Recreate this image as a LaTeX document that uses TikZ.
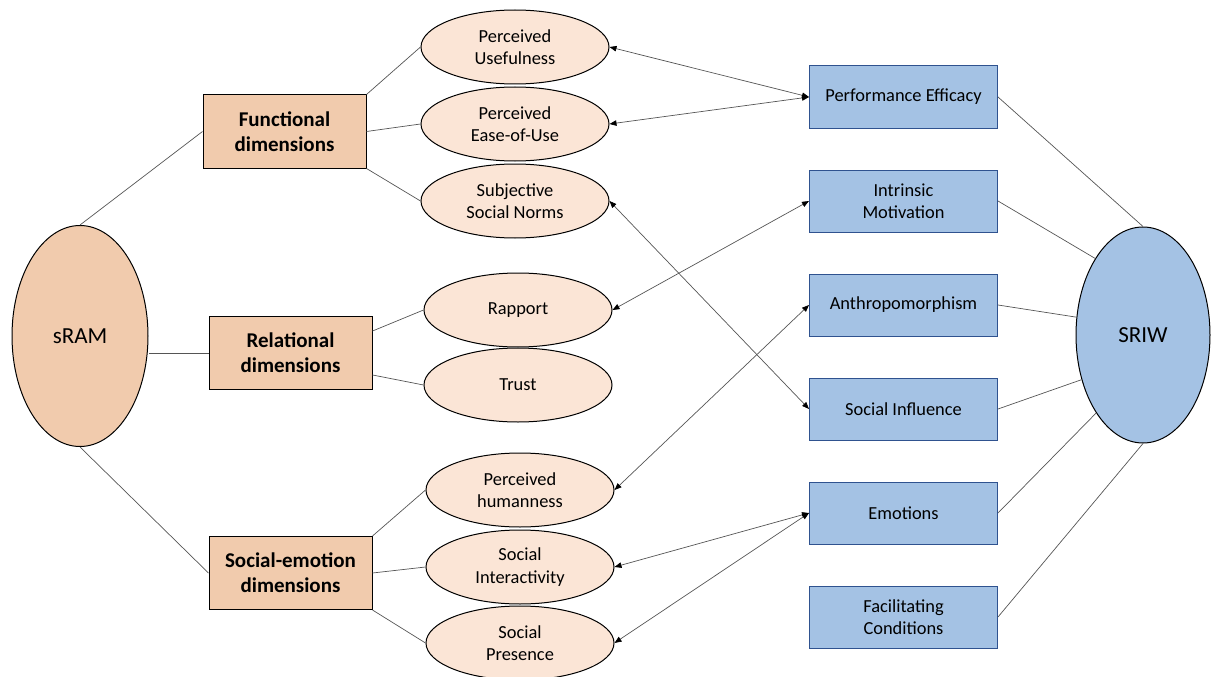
\documentclass[tikz,border=0pt]{standalone}
\usepackage{fontspec}
\setmainfont{Carlito}
\usetikzlibrary{arrows.meta, positioning, shapes.geometric}
\definecolor{RMpeach}{HTML}{F1CBAD}
\definecolor{RMpeachL}{HTML}{FBE5D6}
\definecolor{RWblue}{HTML}{A4C2E4}
\definecolor{RWblueD}{HTML}{2F528F}
\definecolor{RMgrey}{HTML}{555555}
\tikzset{
  rmtxt/.style={font=\fontsize{18.4}{22.4}\selectfont},
  rmcore/.style={ellipse, draw=black, line width=1pt, fill=RMpeach,
    inner sep=0pt, minimum width=136pt, minimum height=221pt,
    font=\fontsize{23}{28}\selectfont},
  rwcore/.style={rmcore, fill=RWblue},
  rmdim/.style={rectangle, draw=black, line width=1pt, fill=RMpeach,
    align=center, inner sep=0pt, minimum width=163pt, minimum height=73pt,
    font=\fontsize{21}{25.2}\selectfont\bfseries},
  rmell/.style={ellipse, draw=black, line width=1pt, fill=RMpeachL,
    align=center, inner sep=0pt, minimum width=188pt, minimum height=74pt,
    rmtxt},
  rwbox/.style={rectangle, draw=RWblueD, line width=1pt, fill=RWblue,
    align=center, inner sep=0pt, minimum width=188pt, minimum height=62pt,
    rmtxt},
  rmtie/.style={draw=RMgrey, line width=0.7pt},
  rwarr/.style={{Triangle[length=7pt,width=5.5pt,color=black]}-{Triangle[length=7pt,width=5.5pt,color=black]},
    draw=RMgrey, line width=0.7pt},
}

\begin{document}
\begin{tikzpicture}[x=1pt, y=-1pt]
  \useasboundingbox (0,0) rectangle (1211,677);
  %% Left: sRAM and its dimensions
  \node[rmcore] (sram) at (80,336) {sRAM};
  \node[rmdim] (func) at (284.5,131.5) {Functional\\dimensions};
  \node[rmdim] (rel) at (290.5,353) {Relational\\dimensions};
  \node[rmdim] (soc) at (290.5,573) {Social-emotion\\dimensions};
  %% Middle: constructs
  \node[rmell] (pu) at (515,47) {Perceived\\Usefulness};
  \node[rmell, below=2pt of pu] (peou) {Perceived\\Ease-of-Use};
  \node[rmell, below=2pt of peou] (ssn) {Subjective\\Social Norms};
  \node[rmell] (rap) at (518,310) {Rapport};
  \node[rmell, below=0pt of rap] (trust) {Trust};
  \node[rmell] (ph) at (520,490) {Perceived\\humanness};
  \node[rmell, below=2pt of ph] (sint) {Social\\Interactivity};
  \node[rmell, below=1pt of sint] (spres) {Social\\Presence};
  %% Right: SRIW factors
  \node[rwbox] (perf) at (903.5,97) {Performance Efficacy};
  \node[rwbox, below=41pt of perf] (intr) {Intrinsic\\Motivation};
  \node[rwbox, below=41pt of intr] (anth) {Anthropomorphism};
  \node[rwbox, below=41pt of anth] (sinf) {Social Influence};
  \node[rwbox, below=41pt of sinf] (emo) {Emotions};
  \node[rwbox, below=41pt of emo] (fac) {Facilitating\\Conditions};
  \node[rwcore, minimum width=134pt, minimum height=216pt] (sriw) at (1143,335) {SRIW};
  %% Ties
  \draw[rmtie] (sram.north) -- (func.west);
  \draw[rmtie] (rel.west) -- (rel.west -| sram.east);
  \draw[rmtie] (sram.south) -- (soc.west);
  \draw[rmtie] (func.north east) -- (pu.west);
  \draw[rmtie] (func.east) -- (peou.west);
  \draw[rmtie] (func.south east) -- (ssn.west);
  \draw[rmtie] (rel.15) -- (rap.west);
  \draw[rmtie] (rel.-15) -- (trust.west);
  \draw[rmtie] (soc.north east) -- (ph.west);
  \draw[rmtie] (soc.east) -- (sint.west);
  \draw[rmtie] (soc.south east) -- (spres.west);
  \draw[rmtie] (perf.east) -- (sriw.north);
  \draw[rmtie] (intr.east) -- (sriw.122);
  \draw[rmtie] (anth.east) -- (sriw.165);
  \draw[rmtie] (sinf.east) -- (sriw.216);
  \draw[rmtie] (emo.east) -- (sriw.239);
  \draw[rmtie] (fac.east) -- (sriw.south);
  %% Arrows
  \draw[rwarr] (pu.east) -- (perf.west);  \draw[rwarr] (peou.east) -- (perf.west);
  \draw[rwarr] (ssn.east) -- (sinf.west); \draw[rwarr] (rap.east) -- (intr.west);
  \draw[rwarr] (ph.east) -- (anth.west);  \draw[rwarr] (sint.east) -- (emo.west);
  \draw[rwarr] (spres.east) -- (emo.west);
\end{tikzpicture}
\end{document}
